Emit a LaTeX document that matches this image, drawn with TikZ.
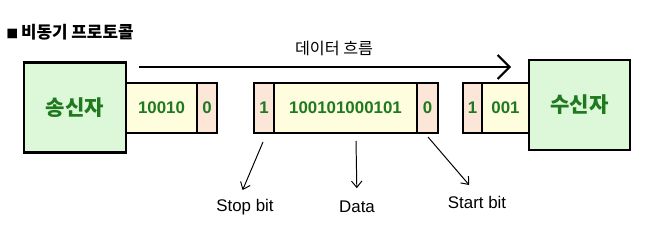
\documentclass[tikz,border=0pt]{standalone}
\usepackage{fontspec}
\setmainfont{Liberation Sans}
\newfontfamily\kr{Noto Sans CJK KR}
\usetikzlibrary{arrows.meta,positioning}
\definecolor{hostfill}{HTML}{DDF8D8}
\definecolor{datafill}{HTML}{FEFDDE}
\definecolor{bitfill}{HTML}{FBE6D8}
\definecolor{bittext}{HTML}{1F7A1F}

\begin{document}
\begin{tikzpicture}[x=0.025cm,y=-0.025cm,
    host/.style={rectangle,draw,line width=1.5pt,fill=hostfill,minimum width=2.55cm,minimum height=2.25cm,font=\kr\bfseries\fontsize{15}{17}\selectfont,text=bittext},
    cell/.style={rectangle,draw,line width=1.4pt,minimum height=1.25cm,inner sep=0pt,font=\bfseries\fontsize{12}{14}\selectfont,text=bittext},
    databox/.style={cell,fill=datafill},
    bitbox/.style={cell,fill=bitfill,minimum width=0.5cm},
    note/.style={-{Straight Barb[length=1.6mm,width=2.6mm]},line width=0.7pt},
    notelbl/.style={inner sep=1pt,font=\fontsize{12}{14}\selectfont}]
  \useasboundingbox (0,0) rectangle (648,241);

  % Title
  \node[anchor=west,inner sep=0pt,font=\kr\bfseries\fontsize{12}{14}\selectfont] (title) at (6,32) {{\fontsize{8.5}{8.5}\selectfont ■}\,비동기 프로토콜};

  % Data flow arrow
  \coordinate (flowstart) at (139,67);
  \coordinate (flowend) at (511,67);
  \draw[-{Straight Barb[length=3mm,width=6mm]},line width=1.5pt] (flowstart) -- (flowend);
  \node[font=\kr\fontsize{11.5}{13}\selectfont] (flowlbl) at (334,48) {데이터 흐름};

  % Frames on the line
  \node[databox,minimum width=1.775cm] (dat1) at (161.5,108) {10010};
  \node[bitbox] (bit1) at (207,108) {0};

  \node[bitbox] (stopbit) at (264,108) {1};
  \node[databox,minimum width=3.575cm] (dat2) at (345.5,108) {100101000101};
  \node[bitbox,minimum width=0.525cm] (startbit) at (427.5,108) {0};

  \node[bitbox,minimum width=0.475cm] (bit3) at (472.5,108) {1};
  \node[databox,minimum width=1.175cm] (dat3) at (505.5,108) {001};

  % Sender and receiver
  \node[host] (sender) at (75,107.5) {송신자};
  \node[host,minimum width=2.525cm] (receiver) at (579.5,105) {수신자};

  % Notes
  \node[notelbl] (stoplbl) at (245,207) {Stop bit};
  \node[notelbl] (datalbl) at (357,207) {Data};
  \node[notelbl] (startlbl) at (477,202) {Start bit};

  \coordinate (stoptail) at (263,142);
  \coordinate (datatail) at (356,141);
  \coordinate (starttail) at (428,137);
  \draw[note,shorten >=0.2cm] (stoptail) -- (stoplbl.120);
  \draw[note,shorten >=0.28cm] (datatail) -- (datalbl.north);
  \draw[note,shorten >=0.3cm] (starttail) -- (startlbl.north);
\end{tikzpicture}
\end{document}
